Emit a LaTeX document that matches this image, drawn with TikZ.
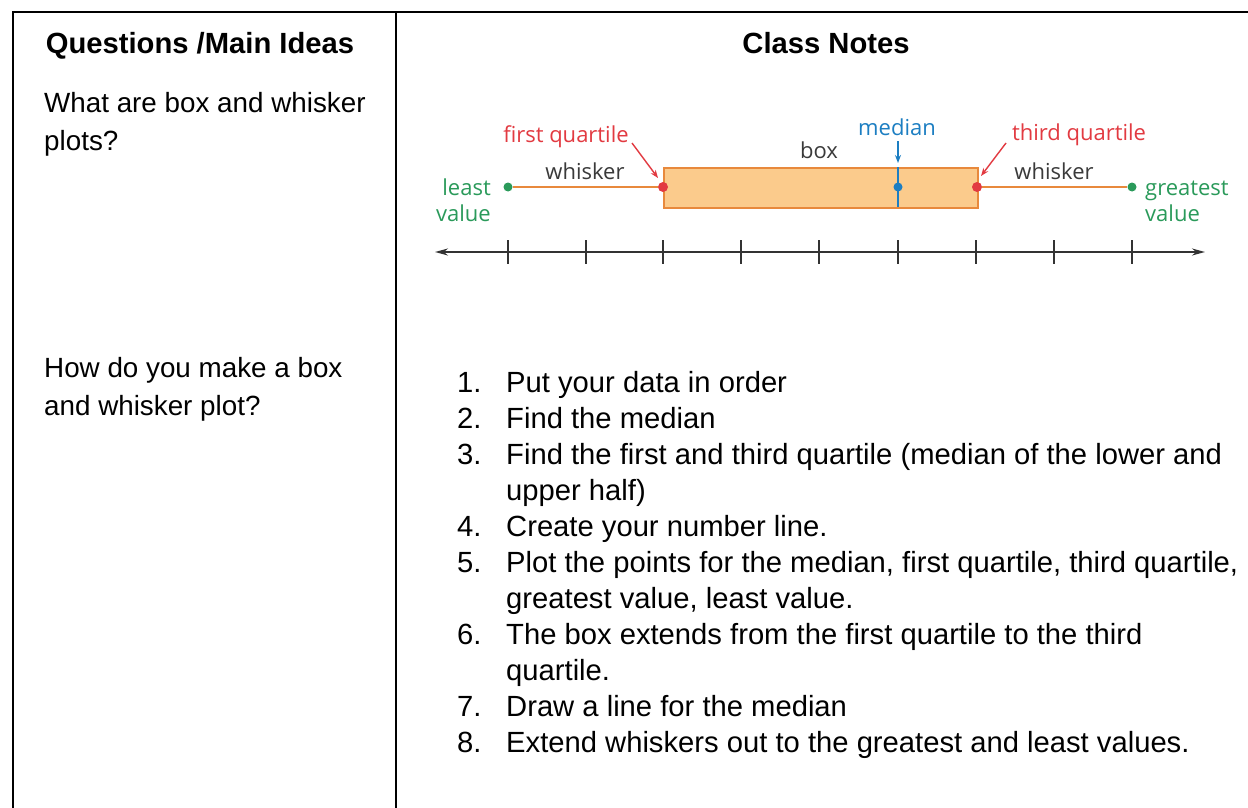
\documentclass[tikz,border=0pt]{standalone}
\usepackage{fontspec}
\setmainfont{Liberation Sans}
\newfontfamily\diagfont{Open Sans}
\usetikzlibrary{arrows.meta}
\definecolor{boxfill}{HTML}{FBCB8C}
\definecolor{boxedge}{HTML}{E8893C}
\definecolor{qred}{HTML}{E23A41}
\definecolor{medblue}{HTML}{1C7EC2}
\definecolor{valgreen}{HTML}{2A9A5A}
\definecolor{axisgray}{HTML}{333333}
\definecolor{labelgray}{HTML}{3A3A3A}
\begin{document}
\begin{tikzpicture}[x=1pt,y=-1pt,
  rule/.style={line width=2pt,black},
  head/.style={font=\fontsize{29.2}{31}\selectfont\bfseries, anchor=base, inner sep=0pt},
  body/.style={font=\fontsize{27.8}{30}\selectfont, anchor=base west, inner sep=0pt},
  listtext/.style={font=\fontsize{29.2}{31}\selectfont, anchor=base west, inner sep=0pt},
  dlabel/.style={font=\diagfont\fontsize{22}{24}\selectfont, inner sep=0pt, anchor=base},
  dot/.style={circle, inner sep=0pt, minimum size=9pt},
  tick/.style={line width=1.5pt, axisgray},
  pointer/.style={line width=1.4pt, -{Stealth[length=8pt,width=6pt]}},
]
\useasboundingbox (0,0) rectangle (1248,808);
\fill[white] (0,0) rectangle (1248,808);
% table rules
\coordinate (tl) at (13,12);
\coordinate (tr) at (1248,12);
\coordinate (bl) at (13,808);
\coordinate (dt) at (396,12);
\coordinate (db) at (396,808);
\draw[rule, line join=miter] (tr) -- (tl) -- (bl);
\draw[rule] (dt) -- (db);
% headings
\node[head] (qhead) at (200,54) {Questions /Main Ideas};
\node[head] (chead) at (826,54) {Class Notes};
% left column
\node[body] (q1a) at (44,112) {What are box and whisker};
\node[body] (q1b) at (44,150) {plots?};
\node[body] (q2a) at (44,377) {How do you make a box};
\node[body] (q2b) at (44,415) {and whisker plot?};
% list
\foreach \n/\t [count=\i from 0] in {
  1./Put your data in order,
  2./Find the median,
  3./Find the first and third quartile (median of the lower and,
  /upper half),
  4./Create your number line.,
  5./{Plot the points for the median, first quartile, third quartile,},
  /{greatest value, least value.},
  6./The box extends from the first quartile to the third,
  /quartile.,
  7./Draw a line for the median,
  8./Extend whiskers out to the greatest and least values.}{
  \node[listtext] (num\i) at (457,392+36*\i) {\n};
  \node[listtext] (item\i) at (506,392+36*\i) {\t};
}
% diagram
\coordinate (axL) at (435,252);
\coordinate (axR) at (1205,252);
\draw[line width=1.8pt, axisgray, {Stealth[length=13pt,width=7pt]}-{Stealth[length=13pt,width=7pt]}] (axL) -- (axR);
\foreach \x in {508,586,663,741,819,898,976,1054,1132}{
  \draw[tick] (\x,240) -- (\x,264);
}
\node[draw=boxedge, fill=boxfill, line width=1.5pt, minimum width=314pt, minimum height=40pt, inner sep=0pt, anchor=north west] (box) at (663,167) {};
\node[dot, fill=valgreen] (least) at (508,187) {};
\node[dot, fill=valgreen] (great) at (1132,187) {};
\node[dot, fill=qred, minimum size=10pt] (q1) at (663,187) {};
\node[dot, fill=qred, minimum size=10pt] (q3) at (977,187) {};
\draw[boxedge, line width=1.8pt] (least) -- (q1);
\draw[boxedge, line width=1.8pt] (q3) -- (great);
\draw[medblue, line width=1.8pt] (898,167) -- (898,207);
\node[dot, fill=medblue, minimum size=9pt] (med) at (898,187) {};
% labels
\node[dlabel, text=qred] (lq1) at (566,142) {first quartile};
\node[dlabel, text=medblue] (lmed) at (897,135) {median};
\node[dlabel, text=labelgray] (lbox) at (819,158) {box};
\node[dlabel, text=qred] (lq3) at (1079,140) {third quartile};
\node[dlabel, text=labelgray] (lw1) at (585,179) {whisker};
\node[dlabel, text=labelgray] (lw2) at (1054,179) {whisker};
\node[dlabel, text=valgreen, anchor=base east] (lleast) at (491,195) {least};
\node[dlabel, text=valgreen, anchor=base east] (lval1) at (491,221) {value};
\node[dlabel, text=valgreen, anchor=base west] (lgreat) at (1145,195) {greatest};
\node[dlabel, text=valgreen, anchor=base west] (lval2) at (1145,221) {value};
% pointers
\coordinate (p1s) at (632,143);
\coordinate (p1e) at (658,178);
\draw[pointer, qred] (p1s) -- (p1e);
\coordinate (p3s) at (1006,143);
\coordinate (p3e) at (981,176);
\draw[pointer, qred] (p3s) -- (p3e);
\coordinate (pms) at (898,141);
\coordinate (pme) at (898,163);
\draw[pointer, medblue] (pms) -- (pme);
\end{tikzpicture}
\end{document}
